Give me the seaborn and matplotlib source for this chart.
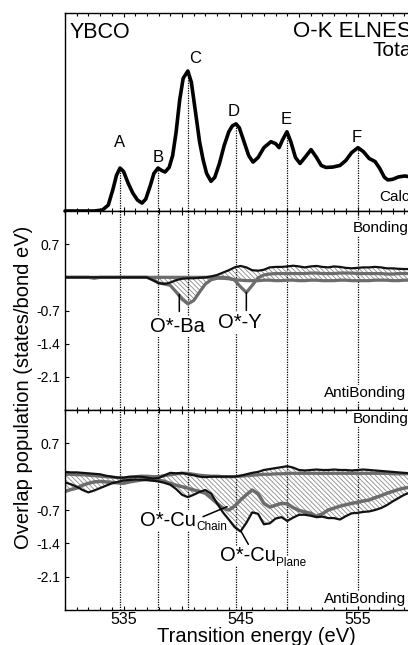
import numpy as np
import pandas as pd
import matplotlib
matplotlib.use("Agg")
import matplotlib.pyplot as plt
import seaborn as sns
from matplotlib.ticker import MultipleLocator, FuncFormatter, FixedLocator

sns.set_style("ticks")
plt.rcParams["font.family"] = ["Liberation Sans", "DejaVu Sans"]
plt.rcParams["hatch.linewidth"] = 0.6
plt.rcParams["hatch.color"] = "#8a8a8a"
plt.rcParams["axes.unicode_minus"] = False
plt.rcParams["text.color"] = "black"
plt.rcParams["xtick.color"] = "black"
plt.rcParams["ytick.color"] = "black"
plt.rcParams["axes.labelcolor"] = "black"

# ---------------- data ----------------
# Top panel: calculated O-K ELNES (arbitrary units)
spec_energy = [530.0, 532.5, 533.2, 533.7, 534.1, 534.4, 534.7, 535.0, 535.4, 535.8,
               536.2, 536.58, 536.9, 537.3, 537.6, 537.95, 538.25, 538.55, 538.9, 539.2,
               539.5, 539.8, 540.1, 540.5, 540.8, 541.2, 541.5, 541.8, 542.1, 542.48,
               542.8, 543.2, 543.6, 544.0, 544.3, 544.62, 544.9, 545.3, 545.7, 546.07,
               546.5, 547.0, 547.6, 548.0, 548.3, 548.6, 548.97, 549.3, 549.7, 550.09,
               550.5, 551.03, 551.5, 551.9, 552.3, 552.9, 553.5, 554.0, 554.5, 555.04,
               555.5, 556.0, 556.5, 556.9, 557.3, 557.6, 558.0, 558.5, 559.06, 559.5, 560.0]
spec_intensity = [0.0, 0.0, 0.005, 0.03, 0.11, 0.18, 0.217, 0.20, 0.14, 0.09,
                  0.055, 0.04, 0.06, 0.13, 0.19, 0.217, 0.205, 0.197, 0.22, 0.28,
                  0.40, 0.56, 0.67, 0.707, 0.65, 0.48, 0.35, 0.26, 0.19, 0.15,
                  0.17, 0.24, 0.33, 0.40, 0.43, 0.44, 0.42, 0.35, 0.28, 0.247,
                  0.27, 0.32, 0.35, 0.34, 0.32, 0.36, 0.40, 0.35, 0.27, 0.24,
                  0.27, 0.31, 0.27, 0.23, 0.22, 0.222, 0.23, 0.255, 0.295, 0.32,
                  0.30, 0.265, 0.25, 0.215, 0.17, 0.157, 0.16, 0.172, 0.177, 0.172, 0.168]

peak_names = ["A", "B", "C", "D", "E", "F"]
peak_energy = [534.7, 537.95, 540.5, 544.62, 548.97, 555.04]
peak_label_energy = [534.68, 537.95, 541.1, 544.44, 548.9, 554.93]
peak_label_height = [0.346, 0.27, 0.771, 0.505, 0.46, 0.369]

# Overlap population panels (states/bond eV)
grid_energy = [530.0, 530.5, 531.0, 531.5, 532.0, 532.5, 533.0, 533.5, 534.0, 534.5,
               535.0, 535.5, 536.0, 536.5, 537.0, 537.5, 538.0, 538.5, 539.0, 539.5,
               540.0, 540.5, 541.0, 541.5, 542.0, 542.5, 543.0, 543.5, 544.0, 544.5,
               545.0, 545.5, 546.0, 546.5, 547.0, 547.5, 548.0, 548.5, 549.0, 549.5,
               550.0, 550.5, 551.0, 551.5, 552.0, 552.5, 553.0, 553.5, 554.0, 554.5,
               555.0, 555.5, 556.0, 556.5, 557.0, 557.5, 558.0, 558.5, 559.0, 559.5,
               560.0]

# panel 2 : O*-Ba / O*-Y
ovp_ba_black = [0.0, 0.0, 0.0, 0.0, 0.0, 0.0, 0.0, 0.0, 0.0, 0.0,
                0.0, 0.0, 0.0, 0.0, 0.0, -0.06, -0.12, -0.14, -0.11, -0.06,
                -0.03, -0.02, -0.02, -0.01, 0.0, 0.02, 0.05, 0.10, 0.15, 0.21,
                0.24, 0.21, 0.15, 0.14, 0.16, 0.21, 0.22, 0.22, 0.23, 0.245,
                0.23, 0.21, 0.23, 0.24, 0.22, 0.21, 0.23, 0.22, 0.20, 0.19,
                0.20, 0.21, 0.21, 0.22, 0.21, 0.19, 0.19, 0.18, 0.175, 0.175,
                0.17]
ovp_ba_gray = [0.0, 0.0, 0.0, 0.0, 0.0, -0.02, 0.0, 0.0, 0.0, 0.0,
               0.0, 0.0, 0.0, 0.0, 0.0, -0.05, -0.12, -0.14, -0.17, -0.31,
               -0.46, -0.56, -0.49, -0.31, -0.14, -0.05, -0.02, -0.02, -0.03, -0.05,
               -0.06, -0.07, -0.07, -0.07, -0.06, -0.06, -0.07, -0.07, -0.06, -0.06,
               -0.07, -0.07, -0.06, -0.06, -0.07, -0.07, -0.07, -0.06, -0.06, -0.07,
               -0.07, -0.07, -0.07, -0.06, -0.06, -0.06, -0.07, -0.07, -0.06, -0.06,
               -0.06]
ovp_y_gray = [0.0, 0.0, 0.0, 0.0, 0.0, 0.0, 0.0, 0.0, 0.0, 0.0,
              0.0, 0.0, 0.0, 0.0, 0.0, 0.0, 0.0, 0.0, 0.0, 0.0,
              0.0, 0.0, 0.0, 0.0, 0.0, 0.0, 0.0, 0.0, -0.01, -0.06,
              -0.20, -0.32, -0.17, -0.01, 0.05, 0.07, 0.08, 0.08, 0.08, 0.08,
              0.08, 0.08, 0.09, 0.09, 0.08, 0.08, 0.08, 0.09, 0.09, 0.09,
              0.08, 0.08, 0.08, 0.08, 0.08, 0.07, 0.07, 0.08, 0.08, 0.08,
              0.08]

# panel 3 : O*-Cu(Chain) / O*-Cu(Plane)
ovp_cu_top_black = [0.10, 0.09, 0.09, 0.08, 0.07, 0.06, 0.05, 0.02, 0.0, -0.02,
                    -0.02, 0.0, 0.0, 0.0, -0.02, -0.04, -0.03, 0.03, 0.08, 0.07,
                    0.08, 0.05, 0.03, 0.0, -0.01, 0.0, 0.0, 0.0, 0.0, 0.0,
                    0.02, 0.05, 0.08, 0.10, 0.14, 0.16, 0.18, 0.20, 0.22, 0.19,
                    0.14, 0.13, 0.14, 0.15, 0.14, 0.14, 0.15, 0.14, 0.14, 0.13,
                    0.14, 0.15, 0.14, 0.13, 0.12, 0.11, 0.10, 0.09, 0.08, 0.07,
                    0.07]
ovp_cu_top_gray = [0.05, 0.05, 0.04, 0.04, 0.03, 0.02, 0.01, 0.0, -0.01, -0.02,
                   -0.03, -0.02, 0.0, 0.01, 0.01, 0.0, 0.0, 0.02, 0.04, 0.06,
                   0.07, 0.07, 0.05, 0.03, 0.02, 0.01, 0.01, 0.0, 0.0, 0.0,
                   0.01, 0.02, 0.03, 0.04, 0.05, 0.05, 0.06, 0.06, 0.07, 0.07,
                   0.07, 0.07, 0.07, 0.07, 0.07, 0.07, 0.07, 0.07, 0.07, 0.07,
                   0.07, 0.07, 0.07, 0.07, 0.07, 0.07, 0.06, 0.06, 0.06, 0.06,
                   0.06]
ovp_cu_plane = [-0.12, -0.16, -0.21, -0.28, -0.33, -0.29, -0.24, -0.19, -0.14, -0.11,
                -0.08, -0.07, -0.06, -0.065, -0.07, -0.085, -0.10, -0.13, -0.17, -0.26,
                -0.38, -0.43, -0.38, -0.32, -0.28, -0.36, -0.56, -0.75, -0.90, -1.06,
                -1.15, -0.97, -0.75, -0.78, -1.00, -0.98, -0.88, -0.85, -0.93, -0.86,
                -0.80, -0.80, -0.82, -0.85, -0.84, -0.87, -0.87, -0.90, -0.83, -0.77,
                -0.76, -0.74, -0.73, -0.70, -0.66, -0.60, -0.52, -0.45, -0.38, -0.33,
                -0.30]
ovp_cu_chain = [-0.31, -0.27, -0.24, -0.18, -0.14, -0.11, -0.10, -0.11, -0.12, -0.13,
                -0.14, -0.11, -0.09, -0.07, -0.06, -0.065, -0.07, -0.10, -0.14, -0.18,
                -0.21, -0.24, -0.28, -0.31, -0.35, -0.45, -0.56, -0.66, -0.70, -0.62,
                -0.49, -0.38, -0.28, -0.36, -0.56, -0.64, -0.60, -0.56, -0.57, -0.65,
                -0.71, -0.74, -0.77, -0.83, -0.78, -0.70, -0.66, -0.62, -0.59, -0.56,
                -0.54, -0.51, -0.49, -0.44, -0.40, -0.35, -0.31, -0.27, -0.24, -0.22,
                -0.20]

y_ticks = [0.7, -0.7, -1.4, -2.1]
y_tick_labels = ["0.7", "-0.7", "-1.4", "-2.1"]
x_labelled = [535, 545, 555]

# ---------------- figure ----------------
W_PX, H_PX = 408, 645
fig = plt.figure(figsize=(W_PX / 100, H_PX / 100), dpi=100)
left = 65 / W_PX
width = 351 / W_PX
ax1 = fig.add_axes([left, (H_PX - 211) / H_PX, width, 198 / H_PX])
ax2 = fig.add_axes([left, (H_PX - 410) / H_PX, width, 199 / H_PX])
ax3 = fig.add_axes([left, (H_PX - 610) / H_PX, width, 200 / H_PX])

BLACK = "#111111"
GRAY = "#6c6c6c"
HATCH = "\\\\\\\\\\\\\\"

for ax in (ax1, ax2, ax3):
    ax.set_xlim(530, 560)
    ax.xaxis.set_major_locator(MultipleLocator(5))
    ax.xaxis.set_minor_locator(MultipleLocator(1))
    ax.tick_params(axis="x", which="both", direction="in", top=True, bottom=True,
                   color="black", width=0.8)
    ax.tick_params(axis="x", which="major", length=3.2)
    ax.tick_params(axis="x", which="minor", length=2.0)
    for s in ax.spines.values():
        s.set_linewidth(1.0)
        s.set_color("black")

# ---- panel 1 ----
spec = pd.DataFrame({"E": spec_energy, "I": spec_intensity})
sns.lineplot(data=spec, x="E", y="I", ax=ax1, color="black", linewidth=2.6,
             estimator=None, sort=False, legend=False, clip_on=False,
             solid_joinstyle="round", solid_capstyle="round", zorder=3)
ax1.set_ylim(0, 1)
ax1.set_yticks([])
ax1.tick_params(axis="x", labelbottom=False)
peak_height = [spec_intensity[spec_energy.index(e)] for e in peak_energy]
ax1.vlines(peak_energy, 0, peak_height, colors="black", linestyles=(0, (1, 1)),
           linewidth=0.9, zorder=2)
for name, xe, yh in zip(peak_names, peak_label_energy, peak_label_height):
    ax1.text(xe, yh, name, ha="center", va="center", fontsize=12)
ax1.text(530.43, 0.874, "YBCO", ha="left", va="baseline", fontsize=15.5)
ax1.text(549.51, 0.880, "O-K ELNES", ha="left", va="baseline", fontsize=16)
ax1.text(556.25, 0.785, "Total", ha="left", va="baseline", fontsize=15)
ax1.text(556.86, 0.07, "Calc.", ha="left", va="center", fontsize=11)

# ---- panels 2 and 3 ----
def style_ovp(ax):
    ax.set_ylim(-2.8, 1.4)
    ax.yaxis.set_major_locator(FixedLocator(y_ticks))
    ax.set_yticklabels(y_tick_labels)
    ax.tick_params(axis="y", which="major", direction="in", left=True, right=False,
                   length=3, width=0.8, labelsize=10, pad=3.5)
    for e in peak_energy:
        ax.axvline(e, color="black", linestyle=(0, (1, 1)), linewidth=0.9, zorder=1.5)

style_ovp(ax2)
style_ovp(ax3)
ax2.tick_params(axis="x", labelbottom=False)
ax3.xaxis.set_major_formatter(FuncFormatter(
    lambda v, p: f"{v:.0f}" if round(v) in x_labelled else ""))
ax3.tick_params(axis="x", which="major", labelsize=11.5, pad=1.5)

grid = np.array(grid_energy)
p2 = pd.DataFrame({"E": grid_energy, "ba_black": ovp_ba_black,
                   "ba_gray": ovp_ba_gray, "y_gray": ovp_y_gray})
upper2 = np.maximum(np.maximum(p2["ba_black"], p2["y_gray"]), 0 * grid)
lower2 = np.minimum(p2["ba_black"], p2["ba_gray"])
ax2.fill_between(grid, upper2, lower2, facecolor="none", edgecolor="#8a8a8a",
                 hatch=HATCH, linewidth=0, zorder=1.2)
sns.lineplot(data=p2, x="E", y="ba_gray", ax=ax2, color=GRAY, linewidth=2.3,
             estimator=None, sort=False, legend=False, zorder=2)
sns.lineplot(data=p2, x="E", y="y_gray", ax=ax2, color=GRAY, linewidth=2.3,
             estimator=None, sort=False, legend=False, zorder=2.1)
sns.lineplot(data=p2, x="E", y="ba_black", ax=ax2, color=BLACK, linewidth=1.6,
             estimator=None, sort=False, legend=False, zorder=2.2)

p3 = pd.DataFrame({"E": grid_energy, "top_black": ovp_cu_top_black,
                   "top_gray": ovp_cu_top_gray, "plane": ovp_cu_plane,
                   "chain": ovp_cu_chain})
upper3 = np.maximum(p3["top_black"], p3["top_gray"])
lower3 = np.minimum(p3["plane"], p3["chain"])
ax3.fill_between(grid, upper3, lower3, facecolor="none", edgecolor="#8a8a8a",
                 hatch=HATCH, linewidth=0, zorder=1.2)
sns.lineplot(data=p3, x="E", y="top_gray", ax=ax3, color=GRAY, linewidth=2.3,
             estimator=None, sort=False, legend=False, zorder=2)
sns.lineplot(data=p3, x="E", y="chain", ax=ax3, color=GRAY, linewidth=2.5,
             estimator=None, sort=False, legend=False, zorder=2.1)
sns.lineplot(data=p3, x="E", y="top_black", ax=ax3, color=BLACK, linewidth=1.6,
             estimator=None, sort=False, legend=False, zorder=2.2)
sns.lineplot(data=p3, x="E", y="plane", ax=ax3, color=BLACK, linewidth=1.6,
             estimator=None, sort=False, legend=False, zorder=2.3)

for ax in (ax1, ax2, ax3):
    ax.set_xlabel("")
    ax.set_ylabel("")

WB = dict(facecolor="white", edgecolor="none", pad=0.6)
for ax, yb, ya in ((ax2, 1.04, -2.44), (ax3, 1.21, -2.56)):
    ax.text(554.62, yb, "Bonding", ha="left", va="center", fontsize=11, bbox=WB, zorder=5)
    ax.text(552.1, ya, "AntiBonding", ha="left", va="center", fontsize=11, bbox=WB, zorder=5)

LABEL_FS = 14.5
SUB_FS = 8.5
LEAD = dict(arrowstyle="-", color="black", lw=1.1, shrinkA=0, shrinkB=0)

# O*-Ba
ax2.text(537.26, -1.15, "O*-Ba", ha="left", va="baseline", fontsize=LABEL_FS, bbox=WB, zorder=5)
ax2.annotate("", xy=(539.77, -0.36), xytext=(539.77, -0.72), arrowprops=LEAD, zorder=4)
# O*-Y
ax2.text(543.08, -1.07, "O*-Y", ha="left", va="baseline", fontsize=LABEL_FS, bbox=WB, zorder=5)
ax2.annotate("", xy=(545.5, -0.32), xytext=(545.5, -0.70), arrowprops=LEAD, zorder=4)

def sub_label(ax, x, y, main, sub):
    t = ax.text(x, y, main, ha="left", va="baseline", fontsize=LABEL_FS, bbox=WB, zorder=5)
    ax.annotate(sub, xy=(1, 0), xycoords=t, xytext=(0.3, -0.5), textcoords="offset points",
                ha="left", va="baseline", fontsize=SUB_FS, bbox=WB, zorder=5)

sub_label(ax3, 536.41, -1.03, "O*-Cu", "Chain")
ax3.annotate("", xy=(543.85, -0.63), xytext=(541.8, -0.84), arrowprops=LEAD, zorder=4)
sub_label(ax3, 543.25, -1.78, "O*-Cu", "Plane")
ax3.annotate("", xy=(545.05, -1.15), xytext=(545.67, -1.42), arrowprops=LEAD, zorder=4)

fig.text(256.7 / W_PX, (H_PX - 641.7) / H_PX, "Transition energy (eV)",
         ha="center", va="baseline", fontsize=14.5)
fig.text(24 / W_PX, 1 - 387 / H_PX, "Overlap population (states/bond eV)",
         ha="center", va="center", rotation=90, fontsize=14.5)

fig.savefig("out.png", dpi=100)
